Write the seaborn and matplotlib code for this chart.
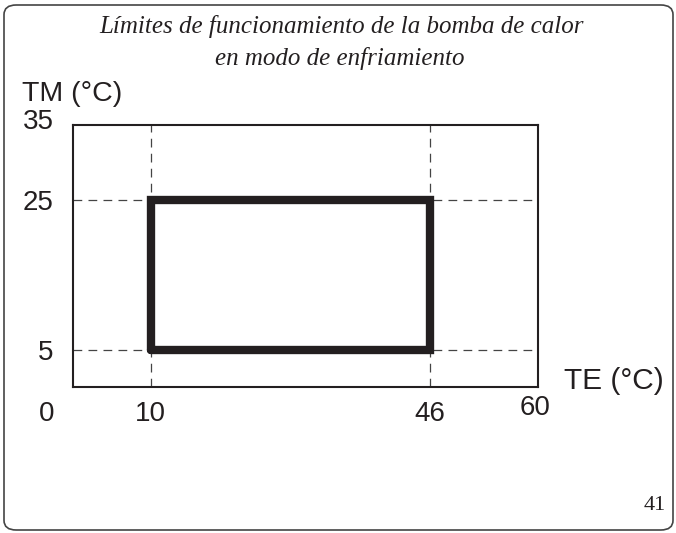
import matplotlib
matplotlib.use("Agg")
import matplotlib.pyplot as plt
import matplotlib.transforms as mtransforms
from matplotlib.patches import FancyBboxPatch
import seaborn as sns
import pandas as pd

# Límites de funcionamiento (modo enfriamiento)
te_limits = [10, 46]      # TE (°C)
tm_limits = [5, 25]       # TM (°C)
x_ticks = [0, 10, 46, 60]
y_ticks = [5, 25, 35]
x_range = [0, 60]
y_range = [0, 35]

ink = "#231f20"

sns.set_theme(style="white")
plt.rcParams["font.family"] = ["Liberation Sans", "DejaVu Sans"]

fig = plt.figure(figsize=(6.76, 5.33), dpi=100)
ax = fig.add_axes([73 / 676, 1 - 387 / 533, 465 / 676, 262 / 533])

# rectangle de fonctionnement
rect = pd.DataFrame({
    "TE": [te_limits[0], te_limits[1], te_limits[1], te_limits[0], te_limits[0]],
    "TM": [tm_limits[0], tm_limits[0], tm_limits[1], tm_limits[1], tm_limits[0]],
})

# lignes pointillées
for x in te_limits:
    ax.axvline(x, color="#444444", lw=0.9, ls=(0, (7, 5)), zorder=1)
for y in tm_limits:
    ax.axhline(y, color="#444444", lw=0.9, ls=(0, (7, 5)), zorder=1)

sns.lineplot(data=rect, x="TE", y="TM", sort=False, estimator=None,
             color=ink, lw=6, ax=ax, zorder=3)
ax.lines[-1].set_solid_joinstyle("miter")

ax.set_xlim(x_range)
ax.set_ylim(y_range)
ax.set_xticks(x_ticks)
ax.set_yticks(y_ticks)
ax.set_xticklabels([str(v) for v in x_ticks])
ax.set_yticklabels([str(v) for v in y_ticks])
ax.tick_params(length=0, labelsize=20, labelcolor=ink)
ax.tick_params(axis="y", pad=14)
ax.tick_params(axis="x", pad=10)
ax.set_xlabel("")
ax.set_ylabel("")

# petits décalages des étiquettes
def shift(lbl, dx, dy):
    lbl.set_transform(lbl.get_transform() +
                      mtransforms.ScaledTranslation(dx / 100, dy / 100, fig.dpi_scale_trans))

shift(ax.get_xticklabels()[0], -26, 0)
shift(ax.get_xticklabels()[-1], -3, 6)
shift(ax.get_yticklabels()[-1], 0, 6)

for s in ax.spines.values():
    s.set_color(ink)
    s.set_linewidth(1.5)

fig.text(22 / 676, 1 - 94 / 533, "TM (°C)", fontsize=20.5, color=ink,
         ha="left", va="center")
fig.text(564 / 676, 1 - 381 / 533, "TE (°C)", fontsize=21.5, color=ink,
         ha="left", va="center")

title_font = ["Liberation Serif", "DejaVu Serif"]
fig.text(342 / 676, 1 - 27 / 533, "Límites de funcionamiento de la bomba de calor",
         fontsize=18, style="italic", family=title_font, color=ink,
         ha="center", va="center")
fig.text(340 / 676, 1 - 59 / 533, "en modo de enfriamiento",
         fontsize=18, style="italic", family=title_font, color=ink,
         ha="center", va="center")
fig.text(666 / 676, 1 - 506 / 533, "41", fontsize=16, family=title_font,
         color=ink, ha="right", va="center")

# cadre de la page
frame = FancyBboxPatch((4 / 676, 3 / 533), 669 / 676, 525 / 533,
                       boxstyle="round,pad=0,rounding_size=0.018",
                       transform=fig.transFigure, fill=False,
                       edgecolor="#444444", lw=1.2)
fig.patches.append(frame)

fig.savefig("out.png", dpi=100)
